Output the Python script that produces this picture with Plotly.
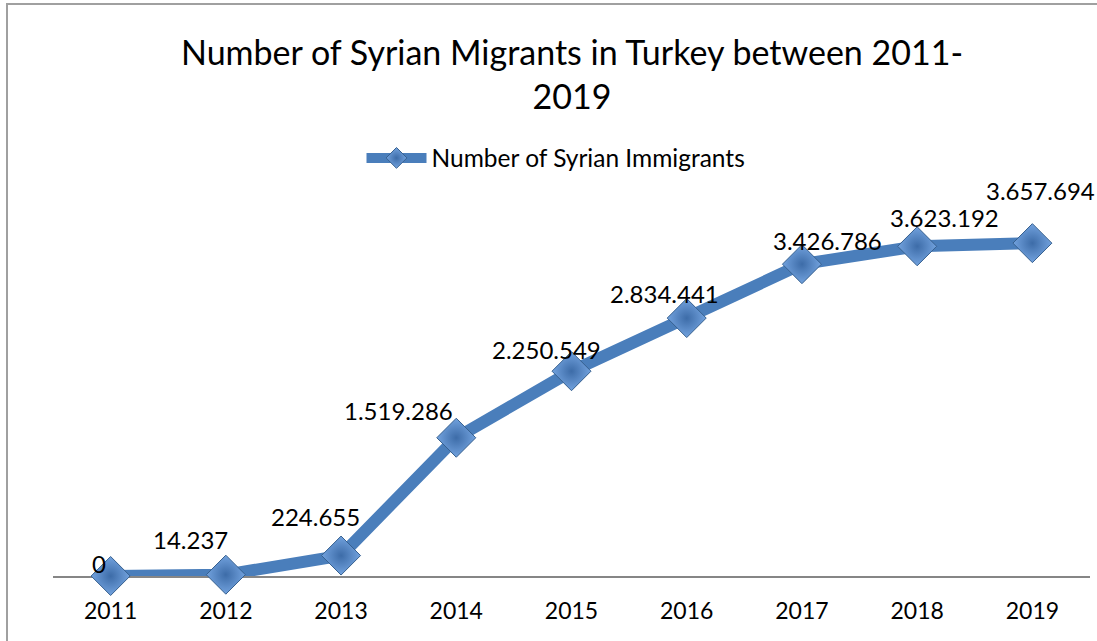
import plotly.graph_objects as go

# Yearly counts of Syrian migrants registered in Turkey
years = ["2011", "2012", "2013", "2014", "2015", "2016", "2017", "2018", "2019"]
migrants = [0, 14237, 224655, 1519286, 2250549, 2834441, 3426786, 3623192, 3657694]

# pixel offsets of each value label from its marker (x, y; y positive = up)
label_dx = [-12, -35, -26, -58, -25, -22, 26, 27, 8]
label_dy = [13, 35, 39, 27, 22, 25, 24, 29, 53]

FONT = "Lato, Calibri, Carlito, sans-serif"
LINE_BLUE = "#4A7EBB"

# plot-area geometry in pixels
W, H = 1097, 641
L, R, T, B = 53, 7, 212, 65
PW, PH = W - L - R, H - T - B


def paper_x(px):
    return (px - L) / PW


def paper_y(py):
    return (H - B - py) / PH


fig = go.Figure()
fig.add_trace(go.Scatter(
    x=years,
    y=migrants,
    mode="lines+markers",
    name="Number of Syrian Immigrants",
    line=dict(color=LINE_BLUE, width=12),
    marker=dict(
        symbol="diamond",
        size=30,
        color="#72A2DE",
        gradient=dict(type="radial", color="#3D6CA8"),
        line=dict(color="#36608F", width=1),
    ),
    cliponaxis=False,
))


def fmt(v):
    return f"{v:,}".replace(",", ".")


annotations = []
for i, (v, dx, dy) in enumerate(zip(migrants, label_dx, label_dy)):
    annotations.append(dict(
        x=i, y=v, xref="x", yref="y",
        text=fmt(v), showarrow=False,
        xshift=dx, yshift=dy,
        font=dict(family=FONT, size=24, color="#000000"),
    ))

# chart title, two lines
annotations.append(dict(
    x=0.5, y=paper_y(73), xref="paper", yref="paper",
    xanchor="center", yanchor="middle",
    text="Number of Syrian Migrants in Turkey between 2011-<br>2019",
    showarrow=False,
    font=dict(family=FONT, size=34, color="#000000"),
))

fig.update_layout(
    width=W,
    height=H,
    margin=dict(l=L, r=R, t=T, b=B),
    paper_bgcolor="white",
    plot_bgcolor="white",
    showlegend=True,
    legend=dict(
        orientation="h",
        x=paper_x(556), xanchor="center",
        y=paper_y(158), yanchor="middle",
        itemwidth=60,
        font=dict(family=FONT, size=24.5, color="#000000"),
        bgcolor="rgba(0,0,0,0)",
    ),
    xaxis=dict(
        type="category",
        range=[-0.5, 8.5],
        showgrid=False,
        showline=True,
        linecolor="#868686",
        linewidth=1.5,
        ticks="",
        ticklabelstandoff=14,
        tickfont=dict(family=FONT, size=23, color="#000000"),
        layer="below traces",
        zeroline=False,
        fixedrange=True,
    ),
    yaxis=dict(
        range=[0, 4000000],
        visible=False,
        showgrid=False,
        zeroline=False,
    ),
    annotations=annotations,
    shapes=[dict(
        type="rect", xref="paper", yref="paper",
        x0=paper_x(7), x1=1.2,
        y0=-0.5, y1=paper_y(4),
        line=dict(color="#A0A0A0", width=2),
        fillcolor="rgba(0,0,0,0)",
        layer="below",
    )],
)

fig.write_html("out.html")
